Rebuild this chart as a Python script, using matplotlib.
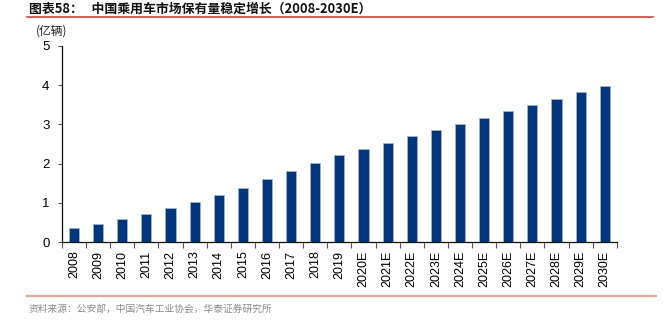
import matplotlib
matplotlib.use("Agg")
import matplotlib.pyplot as plt
from matplotlib.lines import Line2D

# Passenger car ownership in China, 100 million vehicles
years = ["2008", "2009", "2010", "2011", "2012", "2013", "2014", "2015",
         "2016", "2017", "2018", "2019", "2020E", "2021E", "2022E", "2023E",
         "2024E", "2025E", "2026E", "2027E", "2028E", "2029E", "2030E"]
stock = [0.36, 0.46, 0.59, 0.72, 0.87, 1.03, 1.20, 1.39,
         1.60, 1.82, 2.02, 2.21, 2.37, 2.53, 2.70, 2.85,
         3.02, 3.17, 3.33, 3.49, 3.65, 3.82, 3.99]
y_ticks = [0, 1, 2, 3, 4, 5]

title_text = "图表58：   中国乘用车市场保有量稳定增长（2008-2030E）"
unit_text = "(亿辆)"
source_text = "资料来源：公安部，中国汽车工业协会，华泰证券研究所"

cjk = ["Noto Sans CJK SC", "DejaVu Sans"]
latin = ["Liberation Sans", "DejaVu Sans"]

fig = plt.figure(figsize=(6.68, 3.30), dpi=100)
ax = fig.add_axes([0.0928, 0.266, 0.8305, 0.595])

x = list(range(len(years)))
ax.bar(x, stock, width=0.42, color="#00377a", edgecolor="#9db3d1", linewidth=0.6)

ax.set_xlim(-0.5, len(years) - 0.5)
ax.set_ylim(0, 5)
ax.set_yticks(y_ticks)
ax.set_yticklabels([str(v) for v in y_ticks], family=latin, fontsize=9.5)

# category labels at bar centres, tick marks at the category boundaries
ax.set_xticks(x)
ax.set_xticklabels(years, rotation=90, family=latin, fontsize=9)
ax.set_xticks([i - 0.5 for i in range(len(years) + 1)], minor=True)
ax.tick_params(axis="x", which="major", length=0, pad=6)
ax.tick_params(axis="x", which="minor", length=4, width=0.8, color="#555555", direction="out")
ax.tick_params(axis="y", length=3, width=0.8, color="#555555", direction="out", pad=6)

for side in ["top", "right"]:
    ax.spines[side].set_visible(False)
for side in ["left", "bottom"]:
    ax.spines[side].set_linewidth(0.9)
    ax.spines[side].set_color("#111111")

# header, unit label, rules and source note
fig.text(0.043, 0.975, title_text, family=cjk, fontsize=9.3, fontweight="bold",
         va="center", ha="left", color="#111111")
fig.add_artist(Line2D([0.04, 0.978], [0.948, 0.948], color="#c9453a", linewidth=1.2))
fig.text(0.054, 0.906, unit_text, family=cjk, fontsize=8.5, va="center", ha="left",
         color="#222222")
fig.add_artist(Line2D([0.04, 0.982], [0.103, 0.103], color="#f2a19b", linewidth=1.6))
fig.text(0.042, 0.063, source_text, family=cjk, fontsize=7, va="center", ha="left",
         color="#8a8a8a")

fig.savefig("out.png", dpi=100)
plt.close(fig)
